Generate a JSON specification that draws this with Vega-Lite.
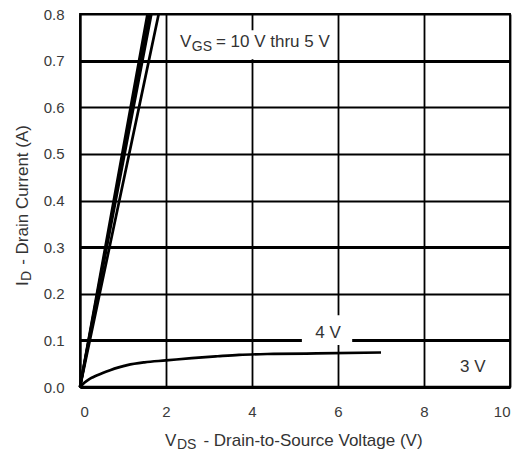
{
  "$schema": "https://vega.github.io/schema/vega-lite/v6.json",
  "width": 430,
  "height": 373,
  "autosize": {"type": "none"},
  "padding": {"left": 80, "top": 14, "right": 10, "bottom": 71},
  "background": "white",
  "config": {
    "font": "Liberation Sans",
    "view": {"stroke": "black", "strokeWidth": 1.8},
    "axis": {
      "domainColor": "black",
      "domainWidth": 2,
      "gridColor": "black",
      "gridOpacity": 1,
      "ticks": false,
      "labelFont": "Liberation Sans",
      "labelFontSize": 15,
      "labelColor": "#3a3a3a",
      "title": null
    }
  },
  "datasets": {
    "curves": [
      {"vgs": "10 V", "x": 0, "y": 0},
      {"vgs": "10 V", "x": 0.785, "y": 0.4},
      {"vgs": "10 V", "x": 1.57, "y": 0.8},
      {"vgs": "8 V", "x": 0, "y": 0},
      {"vgs": "8 V", "x": 0.81, "y": 0.4},
      {"vgs": "8 V", "x": 1.62, "y": 0.8},
      {"vgs": "6 V", "x": 0, "y": 0},
      {"vgs": "6 V", "x": 0.83, "y": 0.4},
      {"vgs": "6 V", "x": 1.66, "y": 0.8},
      {"vgs": "5 V", "x": 0, "y": 0},
      {"vgs": "5 V", "x": 0.915, "y": 0.4},
      {"vgs": "5 V", "x": 1.83, "y": 0.8},
      {"vgs": "4 V", "x": 0, "y": 0},
      {"vgs": "4 V", "x": 0.1, "y": 0.009},
      {"vgs": "4 V", "x": 0.2, "y": 0.016},
      {"vgs": "4 V", "x": 0.3, "y": 0.021},
      {"vgs": "4 V", "x": 0.5, "y": 0.029},
      {"vgs": "4 V", "x": 0.7, "y": 0.036},
      {"vgs": "4 V", "x": 0.9, "y": 0.042},
      {"vgs": "4 V", "x": 1.1, "y": 0.047},
      {"vgs": "4 V", "x": 1.5, "y": 0.053},
      {"vgs": "4 V", "x": 2.0, "y": 0.057},
      {"vgs": "4 V", "x": 2.6, "y": 0.062},
      {"vgs": "4 V", "x": 3.2, "y": 0.066},
      {"vgs": "4 V", "x": 3.7, "y": 0.069},
      {"vgs": "4 V", "x": 4.5, "y": 0.071},
      {"vgs": "4 V", "x": 5.5, "y": 0.072},
      {"vgs": "4 V", "x": 7.0, "y": 0.074},
      {"vgs": "3 V", "x": 0, "y": 0},
      {"vgs": "3 V", "x": 10, "y": 0}
    ],
    "labelBoxes": [
      {"x": 2.25, "x2": 5.95, "y": 0.703, "y2": 0.765},
      {"x": 5.16, "x2": 6.33, "y": 0.09, "y2": 0.154}
    ],
    "mainText": [
      {"x": 2.326, "y": 0.7286, "text": "V"},
      {"x": 3.16, "y": 0.7286, "text": "= 10 V thru 5 V"},
      {"x": 5.47, "y": 0.105, "text": "4 V"},
      {"x": 8.84, "y": 0.032, "text": "3 V"},
      {"x": 1.977, "y": -0.1265, "text": "V"},
      {"x": 2.87, "y": -0.1265, "text": "- Drain-to-Source Voltage (V)"}
    ],
    "subText": [
      {"x": 2.6, "y": 0.7215, "text": "GS"},
      {"x": 2.256, "y": -0.1335, "text": "DS"}
    ],
    "yTitleMain": [
      {"x": -1.209, "y": 0.2166, "text": "I"},
      {"x": -1.209, "y": 0.262, "text": "- Drain Current (A)"}
    ],
    "yTitleSub": [
      {"x": -1.14, "y": 0.2275, "text": "D"}
    ]
  },
  "encoding": {
    "x": {
      "field": "x",
      "type": "quantitative",
      "scale": {"domain": [0, 10], "nice": false, "zero": false},
      "axis": {
        "values": [0, 2, 4, 6, 8, 10],
        "format": "d",
        "grid": true,
        "gridWidth": 1.8,
        "domainWidth": 3,
        "labelPadding": 17
      }
    },
    "y": {
      "field": "y",
      "type": "quantitative",
      "scale": {"domain": [0, 0.8], "nice": false, "zero": false},
      "axis": {
        "values": [0, 0.1, 0.2, 0.3, 0.4, 0.5, 0.6, 0.7, 0.8],
        "format": ".1f",
        "grid": true,
        "gridWidth": {
          "condition": {"test": "datum.value == 0.1 || datum.value == 0.3 || datum.value == 0.7", "value": 3},
          "value": 1.8
        },
        "labelPadding": 16
      }
    }
  },
  "layer": [
    {
      "data": {"name": "labelBoxes"},
      "mark": {"type": "rect", "fill": "white", "stroke": null},
      "encoding": {
        "x2": {"field": "x2"},
        "y2": {"field": "y2"}
      }
    },
    {
      "data": {"name": "curves"},
      "mark": {"type": "line", "color": "black", "strokeWidth": 2.7, "interpolate": "monotone"},
      "encoding": {
        "detail": {"field": "vgs", "type": "nominal"}
      }
    },
    {
      "data": {"name": "mainText"},
      "mark": {"type": "text", "align": "left", "baseline": "alphabetic", "fontSize": 17, "color": "#333333"},
      "encoding": {"text": {"field": "text"}}
    },
    {
      "data": {"name": "subText"},
      "mark": {"type": "text", "align": "left", "baseline": "alphabetic", "fontSize": 14, "color": "#333333"},
      "encoding": {"text": {"field": "text"}}
    },
    {
      "data": {"name": "yTitleMain"},
      "mark": {"type": "text", "align": "left", "baseline": "alphabetic", "angle": 270, "fontSize": 17, "color": "#333333"},
      "encoding": {"text": {"field": "text"}}
    },
    {
      "data": {"name": "yTitleSub"},
      "mark": {"type": "text", "align": "left", "baseline": "alphabetic", "angle": 270, "fontSize": 14, "color": "#333333"},
      "encoding": {"text": {"field": "text"}}
    }
  ]
}
